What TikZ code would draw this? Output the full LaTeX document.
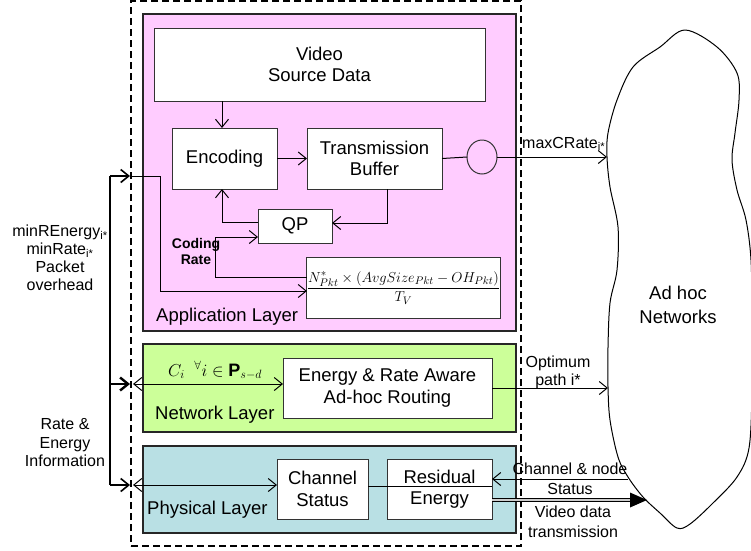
\documentclass[tikz,border=0pt]{standalone}
\usepackage{fontspec}
\setmainfont{Liberation Sans}
\usetikzlibrary{arrows.meta,calc,shapes.geometric}
\definecolor{apppink}{RGB}{255,204,255}
\definecolor{netgreen}{RGB}{204,255,153}
\definecolor{phyblue}{RGB}{185,224,228}
\begin{document}
\begin{tikzpicture}[x=1pt,y=-1pt,
  box/.style={draw=black!80, line width=1pt, fill=white, inner sep=0pt, outer sep=0pt, align=center,
              font=\fontsize{18.5}{21.5}\selectfont},
  layer/.style={draw=black!85, line width=1.6pt, inner sep=0pt, outer sep=0pt},
  layertxt/.style={font=\fontsize{18.5}{21.5}\selectfont, inner sep=0pt, anchor=base west},
  lbl/.style={font=\fontsize{16}{18}\selectfont, align=center, inner sep=0pt},
  arr/.style={line width=1pt, -{Straight Barb[length=8pt,width=13pt]}},
  busarr/.style={line width=1.6pt, -{Straight Barb[length=8pt,width=13pt]}},
  darr/.style={line width=1pt, {Straight Barb[length=8pt,width=13pt]}-{Straight Barb[length=8pt,width=13pt]}},
  plain/.style={line width=1pt}
]
\useasboundingbox (0,0) rectangle (751,550);

% outer dashed frame
\node[draw, dash pattern=on 7pt off 4pt, line width=1.2pt, minimum width=390pt, minimum height=545pt,
      inner sep=0pt, outer sep=0pt] (outer) at (326,273.5) {};

% layers
\node[layer, fill=apppink, minimum width=373pt, minimum height=317pt] (app) at (329.5,172.5) {};
\node[layer, fill=netgreen, minimum width=373pt, minimum height=88pt] (net) at (329.5,388) {};
\node[layer, fill=phyblue, minimum width=373pt, minimum height=87pt] (phy) at (329.5,489.5) {};

\node[layertxt] (applbl) at (156,321) {Application Layer};
\node[layertxt] (netlbl) at (155,419.5) {Network Layer};
\node[layertxt] (phylbl) at (147,514.5) {Physical Layer};

% application boxes
\node[box, minimum width=331pt, minimum height=73pt] (video) at (319.5,64.5) {Video\\Source Data};
\node[box, minimum width=105pt, minimum height=61pt] (enc) at (224.5,158.5) {Encoding};
\node[box, minimum width=135pt, minimum height=61pt] (buf) at (374.5,158.5) {Transmission\\Buffer};
\node[draw=black!80, line width=1pt, ellipse, minimum width=30pt, minimum height=34pt, inner sep=0pt, outer sep=0pt] (circ) at (482,157) {};
\node[box, minimum width=74pt, minimum height=34pt] (qp) at (295,226) {QP};
\node[box, minimum width=181pt, minimum height=61pt] (form) at (403.5,287.5)
  {\fontsize{15}{18}\selectfont $\displaystyle\frac{N^{*}_{Pkt}\times\Bigl(AvgSize_{Pkt}-OH_{Pkt}\Bigr)}{T_V}$};
\node[font=\bfseries\fontsize{14}{16}\selectfont, align=center, inner sep=0pt] (codrate) at (196,251) {Coding\\Rate};

% network
\node[font=\fontsize{18}{21}\selectfont, inner sep=0pt, anchor=base west] (cform) at (168,376)
  {$C_i\;\;{}^{\forall} i \in \mathbf{P}_{s-d}$};
\node[box, minimum width=209pt, minimum height=60pt] (route) at (387.5,388) {Energy \& Rate Aware\\Ad-hoc Routing};

% physical
\node[box, minimum width=91pt, minimum height=60pt] (chan) at (322.5,489) {Channel\\Status};
\node[box, minimum width=105pt, minimum height=60pt] (res) at (439.5,489) {Residual\\Energy};

% cloud
\draw[line width=1pt, fill=white] plot[smooth cycle, tension=0.55] coordinates {
  (685,30) (717,47) (737,73) (739,100) (735,133) (732,160) (737,190) (746,220) (751,260)
  (752,320) (752,390) (749,448) (737,477) (713,503) (690,524) (677,528) (660,513)
  (643,497) (628,477) (618,457) (610,420) (608,387) (608,347) (610,303) (617,270)
  (618,227) (610,187) (607,157) (608,133) (617,100) (633,67) (660,47)};
\node[font=\fontsize{18.5}{24}\selectfont, align=center, inner sep=0pt] (adhoc) at (678,305) {Ad hoc\\Networks};

\coordinate (maxend) at (607,157);
\coordinate (optend) at (608,388);
\coordinate (chstart) at (628,479);
\coordinate (vidtip) at (647,500);

% application connectors
\draw[arr] (video.south -| 222,0) -- (222,128);
\draw[arr] (enc.east) -- (buf.west);
\draw[plain] (buf.east) -- (circ.west);
\draw[arr] (circ.east) -- (maxend);
\draw[arr] ([xshift=12.5pt]buf.south) |- ([yshift=3pt]qp.east);
\draw[arr] ([yshift=4pt]qp.west) -| ([xshift=-2.5pt]enc.south);
\draw[arr] ([yshift=10.5pt]form.west) -- ++(-91,0) |- ([yshift=-11pt]qp.west);

% left bus
\coordinate (bustop) at (110,176);
\coordinate (busnet) at (110,384);
\coordinate (busphy) at (110,485);
\coordinate (apptap) at (130,176);
\coordinate (nettap) at (130,384);
\coordinate (phytap) at (130,485);
\coordinate (netin) at (133,384);
\coordinate (phyin) at (133,485);
\draw[line width=1.6pt] (bustop) -- (busphy);
\draw[busarr] (bustop) -- (apptap);
\draw[arr] (apptap) -- (160,176) |- ([yshift=-3.5pt]form.west);
\draw[busarr, line width=2.4pt] (busnet) -- (nettap);
\draw[busarr] (busphy) -- (phytap);
\draw[darr] (netin) -- (netin -| route.west);
\draw[darr] (phyin) -- (phyin -| chan.west);

% network / physical connectors
\draw[arr] (route.east) -- (optend);
\draw[plain] ([yshift=3pt]chan.east) -- ([yshift=3pt]res.east);
\draw[arr] (chstart) -- (chstart -| res.east);
\draw[line width=1.8pt, double=gray!40, double distance=1.2pt] ([yshift=-11pt]res.east) -- ($(vidtip)+(-16,0)$);
\fill (vidtip) -- ++(-17,-7.5) -- ++(0,15) -- cycle;

% labels
\node[lbl] (lefttop) at (60,258) {minREnergy\textsubscript{i*}\\minRate\textsubscript{i*}\\Packet\\overhead};
\node[lbl, font=\fontsize{16}{18.5}\selectfont] (leftbot) at (65,443) {Rate \&\\Energy\\Information};
\node[lbl, anchor=base west] (maxlbl) at (522,148) {maxCRate\textsubscript{i*}};
\node[lbl] (optlbl) at (558,372) {Optimum\\path i*};
\node[lbl, font=\fontsize{16}{20}\selectfont] (chlbl) at (570,478.5) {Channel \& node\\Status};
\node[lbl, font=\fontsize{16}{20}\selectfont] (vidlbl) at (573,522) {Video data\\transmission};
\end{tikzpicture}
\end{document}
